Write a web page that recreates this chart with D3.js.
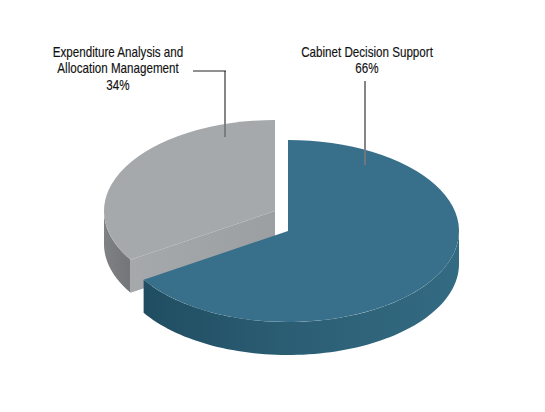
<!DOCTYPE html>
<html><head><meta charset="utf-8">
<script src="https://cdn.jsdelivr.net/npm/d3@7"></script>
<style>html,body{margin:0;background:#fff}svg{display:block}
text{font-family:"Liberation Sans",Arial,sans-serif;font-size:14px;fill:#111;stroke:#111;stroke-width:0.15px;text-anchor:middle}</style>
</head><body><svg id="c" width="545" height="412"></svg>
<script>
const categories = ["Cabinet Decision Support", "Expenditure Analysis and Allocation Management"];
const values = [66, 34];
const labelLines = [["Cabinet Decision Support", "66%"], ["Expenditure Analysis and", "Allocation Management", "34%"]];

const svg = d3.select("#c");
const R = 171, ry = 91, depth = 33;
const centers = [[288, 231], [275, 211]];
const pie = d3.pie().sort(null)(values);
const x = (a, i) => centers[i][0] + R * Math.sin(a);
const y = (a, i) => centers[i][1] - ry * Math.cos(a);
const arc = d3.arc().innerRadius(0).outerRadius(R);

const defs = svg.append("defs");
function grad(id, x1, x2, stops) {
  const g = defs.append("linearGradient").attr("id", id).attr("gradientUnits", "userSpaceOnUse")
    .attr("x1", x1).attr("x2", x2).attr("y1", 0).attr("y2", 0);
  stops.forEach(s => g.append("stop").attr("offset", s[0]).attr("stop-color", s[1]));
}
grad("blueSide", 145, 459, [[0, "#204d61"], [0.5, "#2c5f75"], [1, "#336b82"]]);
grad("greySide", 104, 132, [[0, "#808185"], [1, "#737478"]]);
grad("greyWall", 131, 275, [[0, "#a6a9ac"], [1, "#9c9fa2"]]);

const line = d3.line();
function rim(a0, a1) {
  const n = 80;
  return d3.range(n + 1).map(k => a0 + (a1 - a0) * k / n);
}
function sidePath(a0, a1, i) {
  const as = rim(a0, a1);
  const top = as.map(a => [x(a, i), y(a, i)]);
  const bot = as.slice().reverse().map(a => [x(a, i), y(a, i) + depth]);
  return line(top.concat(bot)) + "Z";
}

// Grey slice (behind)
const g = pie[1];
const visEnd = 1.5 * Math.PI;
svg.append("path").attr("d", sidePath(g.startAngle, visEnd, 1)).attr("fill", "url(#greySide)");
const gx = x(g.startAngle, 1), gy = y(g.startAngle, 1), c1 = centers[1];
svg.append("path")
  .attr("d", line([c1, [gx, gy], [gx, gy + depth], [c1[0], c1[1] + depth]]) + "Z")
  .attr("fill", "url(#greyWall)");
svg.append("path").attr("d", arc(g))
  .attr("transform", `translate(${c1[0]},${c1[1]}) scale(1,${ry / R})`).attr("fill", "#a5a9ac");

// Blue slice (front)
const b = pie[0], c0 = centers[0];
svg.append("path").attr("d", sidePath(Math.PI / 2, b.endAngle, 0)).attr("fill", "url(#blueSide)");
svg.append("path").attr("d", arc(b))
  .attr("transform", `translate(${c0[0]},${c0[1]}) scale(1,${ry / R})`).attr("fill", "#38708b");

// Leaders
svg.append("path").attr("d", line([[365, 81], [365, 165]])).attr("stroke", "#77797b").attr("stroke-width", 1.8).attr("fill", "none");
svg.append("path").attr("d", line([[225, 71], [225, 137]])).attr("stroke", "#77797b").attr("stroke-width", 1.8).attr("fill", "none");
svg.append("path").attr("d", line([[193, 71], [226, 71]])).attr("stroke", "#222").attr("stroke-width", 1).attr("fill", "none");

// Labels
const anchors = [[367, 57], [118, 57]];
labelLines.forEach((ls, i) => {
  ls.forEach((t, k) => svg.append("text")
    .attr("transform", `translate(${anchors[i][0]},${anchors[i][1] + k * 16.3}) scale(0.83,1)`)
    .text(t));
});
</script></body></html>
